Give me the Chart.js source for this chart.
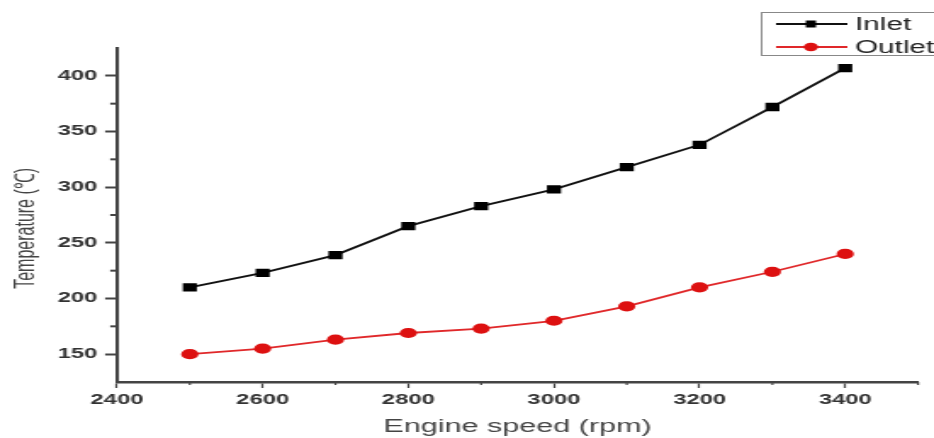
<!DOCTYPE html>
<html>
<head>
<meta charset="utf-8">
<script src="https://cdn.jsdelivr.net/npm/chart.js@4.4.0/dist/chart.umd.min.js"></script>
<style>
  html, body { margin: 0; padding: 0; background: #fff; }
  /* the original figure is a stretched raster, so draw narrow and stretch it */
  #tempChart { display: block; width: 934px; height: 438px; }
</style>
</head>
<body>
<canvas id="tempChart" width="550" height="438" style="width:934px;height:438px"></canvas>
<script>
// values
var speeds = [2500, 2600, 2700, 2800, 2900, 3000, 3100, 3200, 3300, 3400];
var inletTemps = [210, 223, 239, 265, 283, 298, 318, 338, 372, 407];
var outletTemps = [150, 155, 163, 169, 173, 180, 193, 210, 224, 240];
var seriesNames = ['Inlet', 'Outlet'];

function toPoints(values) {
    return speeds.map(function (s, i) { return { x: s, y: values[i] }; });
}

function isMajorX(v) { return v % 200 === 0 && v < 3500; }
function isMajorY(v) { return v % 50 === 0 && v >= 150 && v <= 400; }

// short minor ticks, chart.js only knows one tick length
var minorTicks = {
    id: 'minorTicks',
    afterDraw: function (chart) {
        var c = chart.ctx, area = chart.chartArea;
        var xs = chart.scales.x, ys = chart.scales.y;
        c.save();
        c.strokeStyle = '#444';
        c.lineWidth = 1.2;
        xs.ticks.forEach(function (t) {
            if (isMajorX(t.value)) return;
            var px = xs.getPixelForValue(t.value);
            c.beginPath(); c.moveTo(px, area.bottom); c.lineTo(px, area.bottom + 3); c.stroke();
        });
        c.lineWidth = 2;
        ys.ticks.forEach(function (t) {
            if (isMajorY(t.value) || t.value === 125 || t.value === 425) return;
            var py = ys.getPixelForValue(t.value);
            c.beginPath(); c.moveTo(area.left - 4, py); c.lineTo(area.left, py); c.stroke();
        });
        c.restore();
    }
};

// legend box drawn by hand, it runs off the right edge like the original
var boxLegend = {
    id: 'boxLegend',
    afterDraw: function (chart) {
        var c = chart.ctx;
        c.save();
        c.strokeStyle = '#888';
        c.lineWidth = 1;
        c.strokeRect(448.5, 12.5, 120, 43);
        var rows = [24, 47];
        chart.data.datasets.forEach(function (ds, i) {
            var y = rows[i];
            c.strokeStyle = ds.borderColor;
            c.lineWidth = 2;
            c.beginPath(); c.moveTo(457, y); c.lineTo(499, y); c.stroke();
            c.fillStyle = ds.pointBackgroundColor;
            if (ds.pointStyle === 'rect') {
                c.fillRect(474.5, y - 3.5, 6, 7);
            } else {
                c.beginPath(); c.arc(477.5, y, 4.2, 0, Math.PI * 2); c.fill();
            }
            c.fillStyle = '#222';
            c.font = '17.5px "Liberation Sans", Arial, sans-serif';
            c.textBaseline = 'middle';
            c.fillText(ds.label, 503.5, y + 1);
        });
        c.restore();
    }
};

var ctx = document.getElementById('tempChart').getContext('2d');
var tempChart = new Chart(ctx, {
    type: 'line',
    data: {
        datasets: [{
            label: seriesNames[0],
            data: toPoints(inletTemps),
            borderColor: '#111',
            pointBackgroundColor: '#000',
            pointBorderColor: '#000',
            pointStyle: 'rect',
            pointRadius: 4.6,
            borderWidth: 1.8,
            fill: false,
        }, {
            label: seriesNames[1],
            data: toPoints(outletTemps),
            borderColor: '#e0282a',
            pointBackgroundColor: '#dd1111',
            pointBorderColor: '#dd1111',
            pointStyle: 'circle',
            pointRadius: 4.2,
            borderWidth: 1.8,
            fill: false,
        }],
    },
    options: {
        responsive: false,
        animation: false,
        devicePixelRatio: 1,
        layout: { padding: { left: 0, right: 9.4, top: 48, bottom: 0 } },
        scales: {
            x: {
                type: 'linear',
                min: 2400,
                max: 3500,
                afterFit: function (scale) { scale.height = 56; },
                border: { color: '#444', width: 2.5 },
                grid: {
                    drawOnChartArea: false,
                    tickLength: 6,
                    tickWidth: 1.2,
                    tickColor: function (c) { return isMajorX(c.tick.value) ? '#444' : 'rgba(0,0,0,0)'; },
                },
                ticks: {
                    stepSize: 100,
                    padding: 4,
                    maxRotation: 0,
                    autoSkip: false,
                    color: '#333',
                    font: { family: '"Liberation Sans", Arial', size: 14, weight: 'bold' },
                    callback: function (v) { return isMajorX(v) ? v : ''; },
                },
                title: {
                    display: true,
                    text: 'Engine speed (rpm)',
                    color: '#444',
                    padding: { top: 2, bottom: 0 },
                    font: { family: '"Liberation Sans", Arial', size: 18 },
                },
            },
            y: {
                min: 125,
                max: 425,
                afterFit: function (scale) { scale.width = 68.9; },
                border: { color: '#444', width: 2 },
                grid: {
                    drawOnChartArea: false,
                    tickLength: 7,
                    tickWidth: 2,
                    tickColor: function (c) { return isMajorY(c.tick.value) ? '#444' : 'rgba(0,0,0,0)'; },
                },
                ticks: {
                    stepSize: 25,
                    padding: 4.5,
                    autoSkip: false,
                    color: '#333',
                    font: { family: '"Liberation Sans", Arial', size: 14, weight: 'bold' },
                    callback: function (v) { return isMajorY(v) ? v : ''; },
                },
                title: {
                    display: true,
                    text: 'Temperature (℃)      ',
                    color: '#444',
                    padding: { top: 6, bottom: 0 },
                    font: { family: '"Liberation Sans", Arial', size: 16 },
                },
            },
        },
        plugins: {
            legend: { display: false },
            tooltip: { enabled: false },
        },
    },
    plugins: [minorTicks, boxLegend],
});
</script>
</body>
</html>
